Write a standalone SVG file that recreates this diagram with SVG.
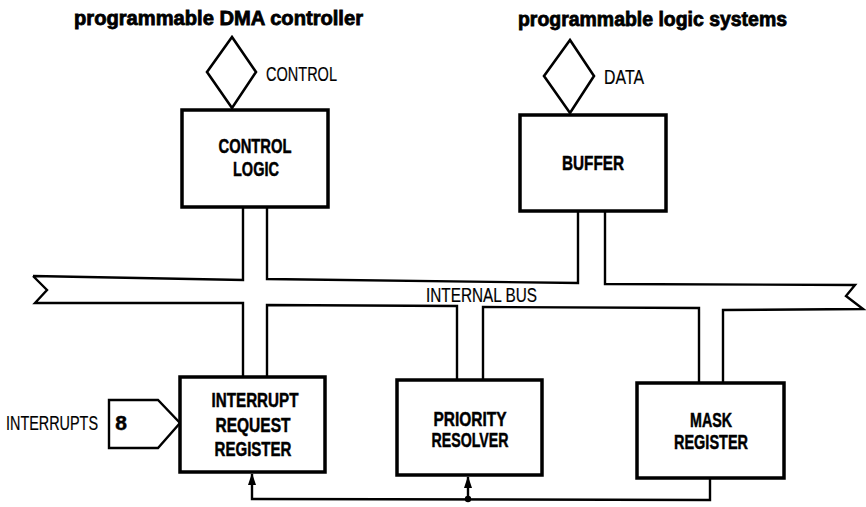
<svg xmlns="http://www.w3.org/2000/svg" width="866" height="507" viewBox="0 0 866 507">
<defs>
<style>
.box{fill:#fff;stroke:#000;stroke-width:3.5}
.thin{fill:none;stroke:#000;stroke-width:2.4;stroke-linejoin:miter}
.sym{fill:#fff;stroke:#000;stroke-width:2.6;stroke-linejoin:miter}
.bt{font-family:"Liberation Sans",Arial,sans-serif;font-weight:bold;font-size:21px;text-anchor:middle;fill:#000;stroke:#000;stroke-width:0.5}
.lt{font-family:"Liberation Sans",Arial,sans-serif;font-size:21px;fill:#000;stroke:#000;stroke-width:0.2}
.title{font-family:"Liberation Sans",Arial,sans-serif;font-weight:bold;font-size:20px;fill:#000;stroke:#000;stroke-width:0.8}
</style>
<marker id="ah" markerWidth="12" markerHeight="10" refX="11" refY="4" orient="auto" markerUnits="userSpaceOnUse">
<path d="M0,0 L12,4 L0,8 Z" fill="#000"/>
</marker>
</defs>
<rect width="866" height="507" fill="#fff"/>

<text class="title" x="74" y="25" textLength="289" lengthAdjust="spacingAndGlyphs">programmable DMA controller</text>
<text class="title" x="518" y="26" textLength="269" lengthAdjust="spacingAndGlyphs">programmable logic systems</text>

<g id="connectors">
<path class="thin" d="M33,276 L243,280 L243,207 M267,207 L267,279 L578,283 L578,211 M605,211 L605,284 L855,285 L846,296 L863,309 L723,310 L723,383 M699,383 L699,308 L483,307 L483,380 M457,380 L457,306 L267,305 L267,377 M243,377 L243,303 L35,303 L47,290 L33,276"/>
<text class="lt" x="426" y="302" textLength="111" lengthAdjust="spacingAndGlyphs">INTERNAL BUS</text>
<path class="thin" d="M710,478 L710,500 L252,499 L252,474" marker-end="url(#ah)"/>
<path class="thin" d="M468,499 L468,477" marker-end="url(#ah)"/>
<circle cx="468" cy="499" r="3.2" fill="#000"/>
</g>

<g id="control-port">
<path class="sym" d="M232,37 L256,72 L232,108 L207,72 Z"/>
<text class="lt" x="266" y="81" textLength="71" lengthAdjust="spacingAndGlyphs">CONTROL</text>
</g>

<g id="data-port">
<path class="sym" d="M570,40 L594,76 L570,113 L544,76 Z"/>
<text class="lt" x="604" y="84" textLength="40" lengthAdjust="spacingAndGlyphs">DATA</text>
</g>

<g id="interrupts-port">
<path class="thin" d="M109,400 L158,400 L180,423 L158,448 L109,448 Z"/>
<text class="lt" transform="translate(6,430) scale(0.686,1)">INTERRUPTS</text>
<text class="bt" x="121" y="430">8</text>
</g>

<g id="control-logic">
<rect class="box" x="182" y="110" width="146" height="97"/>
<text class="bt" x="255" y="153" textLength="73" lengthAdjust="spacingAndGlyphs">CONTROL</text>
<text class="bt" x="256" y="176" textLength="46" lengthAdjust="spacingAndGlyphs">LOGIC</text>
</g>

<g id="buffer">
<rect class="box" x="520" y="115" width="146" height="96"/>
<text class="bt" x="593" y="170" textLength="62" lengthAdjust="spacingAndGlyphs">BUFFER</text>
</g>

<g id="interrupt-request-register">
<rect class="box" x="180" y="377" width="145" height="95"/>
<text class="bt" x="255" y="407" textLength="87" lengthAdjust="spacingAndGlyphs">INTERRUPT</text>
<text class="bt" x="253" y="432" textLength="75" lengthAdjust="spacingAndGlyphs">REQUEST</text>
<text class="bt" x="253" y="456" textLength="77" lengthAdjust="spacingAndGlyphs">REGISTER</text>
</g>

<g id="priority-resolver">
<rect class="box" x="397" y="380" width="145" height="95"/>
<text class="bt" x="470" y="426" textLength="73" lengthAdjust="spacingAndGlyphs">PRIORITY</text>
<text class="bt" x="470" y="447" textLength="77" lengthAdjust="spacingAndGlyphs">RESOLVER</text>
</g>

<g id="mask-register">
<rect class="box" x="637" y="383" width="147" height="95"/>
<text class="bt" x="711" y="427" textLength="42" lengthAdjust="spacingAndGlyphs">MASK</text>
<text class="bt" x="711" y="449" textLength="74" lengthAdjust="spacingAndGlyphs">REGISTER</text>
</g>
</svg>
